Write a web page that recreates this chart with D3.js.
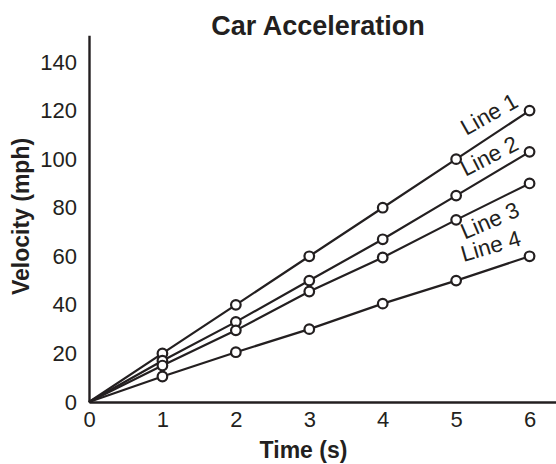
<!DOCTYPE html>
<html>
<head>
<meta charset="utf-8">
<script src="https://cdn.jsdelivr.net/npm/d3@7"></script>
<style>
  html, body { margin: 0; padding: 0; background: #fff; }
  svg { display: block; font-family: "Liberation Sans", Arial, Helvetica, sans-serif; }
</style>
</head>
<body>
<svg id="chart" width="556" height="464"></svg>
<script>
// ---- data ----
const times = [0, 1, 2, 3, 4, 5, 6];
const seriesNames = ["Line 1", "Line 2", "Line 3", "Line 4"];
const line1 = [0, 20, 40, 60, 80, 100, 120];
const line2 = [0, 17, 33, 50, 67, 85, 103];
const line3 = [0, 15, 29.5, 45.5, 59.5, 75, 90];
const line4 = [0, 10.5, 20.5, 30, 40.5, 50, 60];
const xTicks = [0, 1, 2, 3, 4, 5, 6];
const yTicks = [0, 20, 40, 60, 80, 100, 120, 140];
const titleText = "Car Acceleration";
const xTitle = "Time (s)";
const yTitle = "Velocity (mph)";

const seriesValues = [line1, line2, line3, line4];
// label layout: vertical offset of baseline from the line (px), negative = above
const labelOffsets = [-14, -11, 26, -15];

const ink = "#231f20";
const svg = d3.select("#chart");

const x = d3.scaleLinear().domain([0, 6.36]).range([89, 556]);
const y = d3.scaleLinear().domain([0, 151]).range([402, 35.3]);

// title
svg.append("text")
  .attr("x", 318).attr("y", 35)
  .attr("text-anchor", "middle")
  .attr("font-size", 27).attr("font-weight", "bold").attr("fill", ink)
  .text(titleText);

// axes
const xAxis = svg.append("g").attr("transform", `translate(0,${y(0)})`)
  .call(d3.axisBottom(x).tickValues(xTicks).tickSize(0).tickPadding(9).tickFormat(d3.format("d")));
const yAxis = svg.append("g").attr("transform", `translate(${x(0)},0)`)
  .call(d3.axisLeft(y).tickValues(yTicks).tickSize(0).tickPadding(12).tickFormat(d3.format("d")));
[xAxis, yAxis].forEach(g => {
  g.select(".domain").attr("stroke", ink).attr("stroke-width", 2.4);
  g.selectAll("text").attr("font-size", 22).attr("fill", ink)
    .attr("font-family", "'Liberation Sans', Arial, Helvetica, sans-serif");
});

// axis titles
svg.append("text")
  .attr("x", 303.5).attr("y", 458)
  .attr("text-anchor", "middle")
  .attr("font-size", 23).attr("font-weight", "bold").attr("fill", ink)
  .text(xTitle);
svg.append("text")
  .attr("transform", "translate(29,216.5) rotate(-90)")
  .attr("text-anchor", "middle")
  .attr("font-size", 23).attr("font-weight", "bold").attr("fill", ink)
  .text(yTitle);

// lines
const lineGen = d3.line().x((d, i) => x(times[i])).y(d => y(d));
seriesValues.forEach((vals, si) => {
  svg.append("path")
    .datum(vals)
    .attr("d", lineGen)
    .attr("fill", "none").attr("stroke", ink).attr("stroke-width", 2.2);
});
seriesValues.forEach((vals, si) => {
  svg.selectAll(null)
    .data(vals.slice(1))
    .enter().append("circle")
    .attr("cx", (d, i) => x(times[i + 1]))
    .attr("cy", d => y(d))
    .attr("r", 4.8)
    .attr("fill", "#fff").attr("stroke", ink).attr("stroke-width", 2.2);
});

// labels along the last segment
seriesValues.forEach((vals, si) => {
  const n = vals.length;
  const x0 = x(times[n - 2]), y0 = y(vals[n - 2]);
  const x1 = x(times[n - 1]), y1 = y(vals[n - 1]);
  const f = 0.5;
  const mx = x0 + (x1 - x0) * f, my = y0 + (y1 - y0) * f + labelOffsets[si];
  const ang = Math.atan2(y1 - y0, x1 - x0) * 180 / Math.PI * 0.88;
  svg.append("text")
    .attr("transform", `translate(${mx},${my}) rotate(${ang})`)
    .attr("text-anchor", "middle")
    .attr("font-size", 22.5).attr("fill", ink)
    .text(seriesNames[si]);
});
</script>
</body>
</html>
